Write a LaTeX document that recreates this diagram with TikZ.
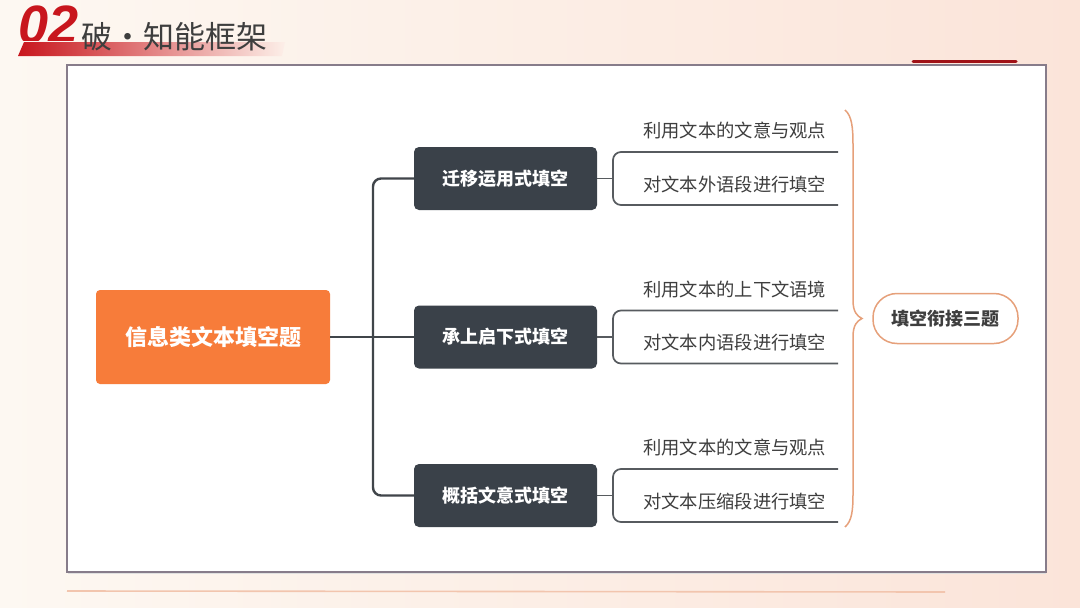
\documentclass[tikz,border=0pt]{standalone}
\usepackage{fontspec}
\newfontfamily\cjk{Noto Sans CJK SC}
\newfontfamily\numfont{Liberation Sans}
\usetikzlibrary{positioning}
\definecolor{bgL}{HTML}{FDF8F2}
\definecolor{bgR}{HTML}{FBE4D9}
\definecolor{darkbox}{HTML}{3A4149}
\definecolor{orangebox}{HTML}{F77C3A}
\definecolor{linegray}{HTML}{40454A}
\definecolor{leafgray}{HTML}{575B5F}
\definecolor{textgray}{HTML}{3E3E3E}
\definecolor{bracecol}{HTML}{E6A07A}
\definecolor{titlered}{HTML}{C8161D}
\definecolor{panelborder}{HTML}{877C8A}
\tikzset{
  rootbox/.style={fill=orangebox, rounded corners=4pt, minimum width=234pt, minimum height=94pt,
    text=white, font=\cjk\bfseries\fontsize{22}{24}\selectfont, inner sep=0pt},
  midbox/.style={fill=darkbox, rounded corners=5pt, minimum width=183pt, minimum height=63pt,
    text=white, font=\cjk\bfseries\fontsize{18}{20}\selectfont, inner sep=0pt},
  leaftext/.style={anchor=west, text=textgray, font=\cjk\fontsize{18.3}{20}\selectfont, inner sep=0pt},
  trunk/.style={draw=linegray, line width=2.4pt, rounded corners=8pt},
  leafline/.style={draw=leafgray, line width=1.7pt, rounded corners=8pt},
  sumbox/.style={draw=bracecol, line width=1.5pt, rounded corners=24pt, minimum width=145pt,
    minimum height=50pt, text=textgray, font=\cjk\bfseries\fontsize{18}{20}\selectfont, inner sep=0pt, fill=white}
}
\begin{document}
\begin{tikzpicture}[x=1pt,y=-1pt]
\useasboundingbox (0,0) rectangle (1080,608);
% background
\shade[left color=bgL, right color=bgR] (0,0) rectangle (1080,608);
% title decoration
\begin{scope}
\clip (0,0) rectangle (100,40);
\node[anchor=north west, inner sep=0pt, text=titlered, font=\numfont\bfseries\itshape\fontsize{54}{54}\selectfont] (num) at (18,6) {02};
\end{scope}
\shade[left color=titlered, right color=bgR!60!white] (24,42) -- (285,42) -- (282,56) -- (18,56) -- cycle;
\node[anchor=west, inner sep=0pt, text=textgray, font=\cjk\fontsize{31}{32}\selectfont] (title) at (81,37) {破•知能框架};
% top right red line
\draw[line width=3pt, color=titlered!80!black, line cap=round] (913,61) -- (1016,61);
% panel
\draw[fill=white, draw=panelborder, line width=1.1pt] (67,65) rectangle (1046,572);
\draw[draw=black!12, line width=1pt] (68,573.5) -- (1046,573.5);
% bottom line
\draw[draw=bracecol!45!bgR, line width=1.6pt] (67,591) -- (945,592);

% nodes
\node[rootbox] (root) at (213,337) {信息类文本填空题};
\node[midbox] (m1) at (505.5,178.5) {迁移运用式填空};
\node[midbox] (m2) at (505.5,337) {承上启下式填空};
\node[midbox] (m3) at (505.5,495.5) {概括文意式填空};

% trunk
\coordinate (tj) at (373,337);
\draw[trunk] (root.east) -- (tj);
\draw[trunk] (m1.west) -- (373,178.5) -- (373,495.5) -- (m3.west);
\draw[trunk] (tj) -- (m2.west);

% leaves
\foreach \m/\c/\ta/\tb in {m1/178.5/利用文本的文意与观点/对文本外语段进行填空,
                           m2/337/利用文本的上下文语境/对文本内语段进行填空,
                           m3/495.5/利用文本的文意与观点/对文本压缩段进行填空}{
  \coordinate (\m a) at (838,\c-26.5);
  \coordinate (\m b) at (838,\c+26.5);
  \coordinate (\m j) at (613,\c);
  \draw[leafline] (\m.east) -- (\m j);
  \draw[leafline] (\m a) -- (613,\c-26.5) -- (613,\c+26.5) -- (\m b);
  \node[leaftext] (\m ta) at (643,\c-47.5) {\ta};
  \node[leaftext] (\m tb) at (643,\c+6) {\tb};
}

% brace
\draw[draw=bracecol, line width=1.5pt]
  (845,110) .. controls (852,116) and (853,128) .. (853,145) -- (853,300)
  .. controls (853,312) and (857,316) .. (862,318.5)
  .. controls (857,321) and (853,325) .. (853,337) -- (853,494)
  .. controls (853,510) and (852,521) .. (845,527);

\node[sumbox] (sum) at (945.5,318.5) {填空衔接三题};
\end{tikzpicture}
\end{document}
